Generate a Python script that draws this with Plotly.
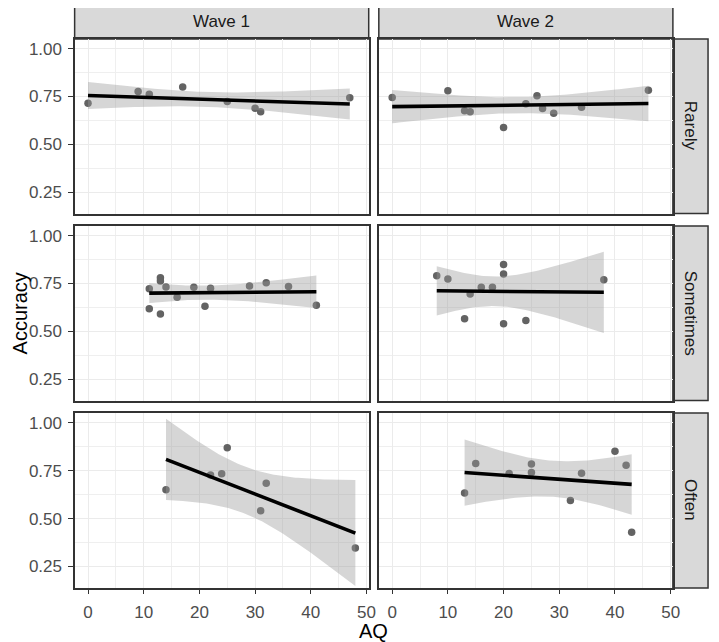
import math
import numpy as np
import plotly.graph_objects as go

# ---------------- data ----------------
waves = ["Wave 1", "Wave 2"]
freqs = ["Rarely", "Sometimes", "Often"]

x_ticks = [0, 10, 20, 30, 40, 50]
y_ticks = [0.25, 0.50, 0.75, 1.00]
y_tick_labels = ["0.25", "0.50", "0.75", "1.00"]

rarely_w1_aq = [0, 9, 11, 17, 25, 30, 31, 47]
rarely_w1_acc = [0.715, 0.776, 0.762, 0.800, 0.724, 0.689, 0.671, 0.743]
rarely_w2_aq = [0, 10, 13, 14, 20, 24, 26, 27, 29, 34, 46]
rarely_w2_acc = [0.745, 0.780, 0.675, 0.671, 0.588, 0.712, 0.754, 0.687, 0.663, 0.694, 0.783]
sometimes_w1_aq = [11, 11, 13, 13, 13, 14, 16, 19, 21, 22, 29, 32, 36, 41]
sometimes_w1_acc = [0.723, 0.618, 0.780, 0.763, 0.590, 0.732, 0.678, 0.730, 0.631, 0.725,
                    0.737, 0.754, 0.735, 0.636]
sometimes_w2_aq = [8, 10, 13, 14, 16, 18, 20, 20, 20, 24, 38]
sometimes_w2_acc = [0.791, 0.774, 0.566, 0.695, 0.730, 0.730, 0.850, 0.800, 0.540, 0.557, 0.770]
often_w1_aq = [14, 22, 24, 25, 31, 32, 48]
often_w1_acc = [0.650, 0.727, 0.734, 0.870, 0.541, 0.685, 0.347]
often_w2_aq = [13, 15, 21, 25, 25, 32, 34, 40, 42, 43]
often_w2_acc = [0.634, 0.788, 0.735, 0.785, 0.741, 0.594, 0.737, 0.851, 0.779, 0.429]

panels = {
    ("Rarely", "Wave 1"): (rarely_w1_aq, rarely_w1_acc),
    ("Rarely", "Wave 2"): (rarely_w2_aq, rarely_w2_acc),
    ("Sometimes", "Wave 1"): (sometimes_w1_aq, sometimes_w1_acc),
    ("Sometimes", "Wave 2"): (sometimes_w2_aq, sometimes_w2_acc),
    ("Often", "Wave 1"): (often_w1_aq, often_w1_acc),
    ("Often", "Wave 2"): (often_w2_aq, often_w2_acc),
}


# ---------------- linear fit with 95% CI (like geom_smooth(method="lm")) ----------------
def t_pdf(x, df):
    c = math.gamma((df + 1) / 2) / (math.sqrt(df * math.pi) * math.gamma(df / 2))
    return c * (1 + x * x / df) ** (-(df + 1) / 2)


def t_cdf(t, df, n=400):
    h = t / n
    s = t_pdf(0, df) + t_pdf(t, df)
    for i in range(1, n):
        s += (4 if i % 2 else 2) * t_pdf(i * h, df)
    return 0.5 + s * h / 3


def t_ppf(p, df):
    lo, hi = 0.0, 20.0
    for _ in range(60):
        mid = (lo + hi) / 2
        if t_cdf(mid, df) < p:
            lo = mid
        else:
            hi = mid
    return (lo + hi) / 2


def lm_fit(x, y, npts=80):
    x = np.asarray(x, float)
    y = np.asarray(y, float)
    n = len(x)
    b1, b0 = np.polyfit(x, y, 1)
    resid = y - (b0 + b1 * x)
    s = math.sqrt((resid ** 2).sum() / (n - 2))
    xm = x.mean()
    sxx = ((x - xm) ** 2).sum()
    xs = np.linspace(x.min(), x.max(), npts)
    yh = b0 + b1 * xs
    se = s * np.sqrt(1 / n + (xs - xm) ** 2 / sxx)
    tq = t_ppf(0.975, n - 2)
    return xs, yh, yh - tq * se, yh + tq * se


# ---------------- layout geometry (page pixels; the page body has an 8px margin) ----------------
OFF = 8
W, H = 719 - OFF, 642 - OFF
col_px = [(75.3, 372.3), (382.5, 679.5)]
row_px = [(39, 213.5), (226, 400.5), (413, 588)]
strip_top = (4, 39)
strip_right = (679.5, 715)


def px_x(p):
    return (p - OFF) / W


def px_y(p):
    return 1 - (p - OFF) / H


fig = go.Figure()
FONT = "Liberation Sans, Arial, Helvetica, sans-serif"
BORDER = "#333333"

layout_axes = {}
idx = 0
for r, fq in enumerate(freqs):
    for c, wv in enumerate(waves):
        idx += 1
        xa = "x" if idx == 1 else f"x{idx}"
        ya = "y" if idx == 1 else f"y{idx}"
        aq, acc = panels[(fq, wv)]
        xs, yh, lo, hi = lm_fit(aq, acc)

        fig.add_trace(go.Scatter(
            x=aq, y=acc, mode="markers",
            marker=dict(color="#636363", size=7.5, line=dict(width=0)),
            xaxis=xa, yaxis=ya, showlegend=False, hoverinfo="skip"))
        fig.add_trace(go.Scatter(
            x=list(xs) + list(xs[::-1]), y=list(hi) + list(lo[::-1]),
            fill="toself", fillcolor="rgba(153,153,153,0.4)",
            line=dict(width=0), mode="lines",
            xaxis=xa, yaxis=ya, showlegend=False, hoverinfo="skip"))
        fig.add_trace(go.Scatter(
            x=xs, y=yh, mode="lines", line=dict(color="black", width=3.6),
            xaxis=xa, yaxis=ya, showlegend=False, hoverinfo="skip"))

        x0, x1 = col_px[c]
        y0, y1 = row_px[r]
        bottom = (r == len(freqs) - 1)
        left = (c == 0)
        xkey = "xaxis" if idx == 1 else f"xaxis{idx}"
        ykey = "yaxis" if idx == 1 else f"yaxis{idx}"
        layout_axes[xkey] = dict(
            domain=[px_x(x0), px_x(x1)], anchor=ya,
            range=[-2.4, 50.4], tickmode="array", tickvals=x_ticks,
            ticktext=[str(v) for v in x_ticks],
            showticklabels=bottom, ticks="outside" if bottom else "",
            ticklen=4.5, tickwidth=1.3, tickcolor=BORDER,
            ticklabelstandoff=3,
            tickfont=dict(family=FONT, size=17, color="#4D4D4D"),
            showgrid=True, gridcolor="#EBEBEB", gridwidth=1.1,
            minor=dict(tickmode="linear", tick0=5, dtick=10, showgrid=True,
                       gridcolor="#EFEFEF", gridwidth=0.6, ticks=""),
            zeroline=False, showline=True, mirror=True,
            linecolor=BORDER, linewidth=1.5)
        layout_axes[ykey] = dict(
            domain=[px_y(y1), px_y(y0)], anchor=xa,
            range=[0.138, 1.051], tickmode="array", tickvals=y_ticks,
            ticktext=y_tick_labels,
            showticklabels=left, ticks="outside" if left else "",
            ticklen=4.5, tickwidth=1.3, tickcolor=BORDER,
            ticklabelstandoff=3,
            tickfont=dict(family=FONT, size=17, color="#4D4D4D"),
            showgrid=True, gridcolor="#EBEBEB", gridwidth=1.1,
            minor=dict(tickmode="linear", tick0=0.125, dtick=0.25, showgrid=True,
                       gridcolor="#EFEFEF", gridwidth=0.6, ticks=""),
            zeroline=False, showline=True, mirror=True,
            linecolor=BORDER, linewidth=1.5)

shapes = []
annotations = []
# top strips
for c, wv in enumerate(waves):
    x0, x1 = col_px[c]
    shapes.append(dict(type="rect", xref="paper", yref="paper",
                       x0=px_x(x0), x1=px_x(x1), y0=px_y(strip_top[1]), y1=px_y(strip_top[0]),
                       fillcolor="#D9D9D9", line=dict(color=BORDER, width=1.5), layer="below"))
    annotations.append(dict(text=wv, xref="paper", yref="paper",
                            x=px_x((x0 + x1) / 2), y=px_y(sum(strip_top) / 2),
                            showarrow=False, xanchor="center", yanchor="middle",
                            font=dict(family=FONT, size=17, color="#1A1A1A")))
# right strips
for r, fq in enumerate(freqs):
    y0, y1 = row_px[r]
    shapes.append(dict(type="rect", xref="paper", yref="paper",
                       x0=px_x(strip_right[0]), x1=px_x(strip_right[1]),
                       y0=px_y(y1), y1=px_y(y0),
                       fillcolor="#D9D9D9", line=dict(color=BORDER, width=1.5), layer="below"))
    annotations.append(dict(text=fq, xref="paper", yref="paper",
                            x=px_x(sum(strip_right) / 2), y=px_y((y0 + y1) / 2),
                            showarrow=False, xanchor="center", yanchor="middle",
                            textangle=90,
                            font=dict(family=FONT, size=17, color="#1A1A1A")))
# axis titles
annotations.append(dict(text="AQ", xref="paper", yref="paper",
                        x=px_x((col_px[0][0] + col_px[1][1]) / 2), y=px_y(631),
                        showarrow=False, xanchor="center", yanchor="middle",
                        font=dict(family=FONT, size=20, color="black")))
annotations.append(dict(text="Accuracy", xref="paper", yref="paper",
                        x=px_x(20), y=px_y((row_px[0][0] + row_px[2][1]) / 2),
                        showarrow=False, xanchor="center", yanchor="middle",
                        textangle=-90,
                        font=dict(family=FONT, size=20, color="black")))

fig.update_layout(
    width=W, height=H,
    margin=dict(l=0, r=0, t=0, b=0),
    paper_bgcolor="white", plot_bgcolor="white",
    shapes=shapes, annotations=annotations,
    showlegend=False,
    **layout_axes,
)

fig.write_html("out.html")
